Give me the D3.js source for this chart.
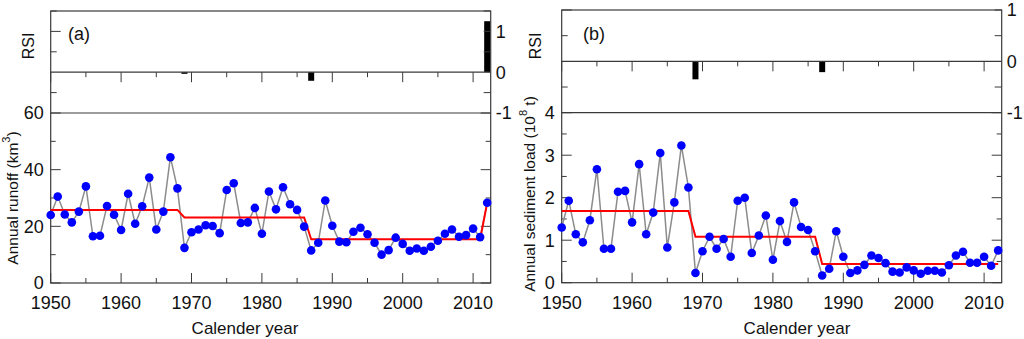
<!DOCTYPE html>
<html>
<head>
<meta charset="utf-8">
<script src="https://cdn.jsdelivr.net/npm/d3@7"></script>
<style>
html,body{margin:0;padding:0;background:#fff;}
svg{display:block;font-family:"Liberation Sans",Arial,sans-serif;}
</style>
</head>
<body>
<svg id="chart" width="1024" height="339"></svg>
<script>
// ---------- data ----------
const years = d3.range(1950, 2013);
const runoff = [24.0,30.5,24.2,21.4,25.2,34.1,16.5,16.7,27.2,24.1,18.7,31.5,20.9,27.1,37.2,18.9,25.2,44.4,33.4,12.4,
  17.9,18.9,20.4,20.1,17.6,32.8,35.2,21.2,21.4,26.5,17.4,32.3,26.0,33.8,27.8,25.8,19.9,11.5,14.2,29.1,
  20.2,14.6,14.4,18.1,19.5,17.2,14.2,10.0,11.6,16.0,13.8,11.4,12.2,11.4,12.8,14.9,17.4,18.9,16.3,16.9,
  19.2,16.2,28.3];
const sediment = [1.30,1.93,1.14,0.95,1.47,2.67,0.80,0.80,2.14,2.16,1.42,2.79,1.14,1.65,3.05,0.83,1.89,3.23,2.24,0.23,
  0.74,1.08,0.80,1.03,0.61,1.93,2.00,0.70,1.11,1.58,0.54,1.45,0.96,1.89,1.31,1.24,0.74,0.17,0.33,1.21,
  0.61,0.23,0.29,0.42,0.64,0.58,0.46,0.26,0.24,0.36,0.29,0.21,0.28,0.28,0.24,0.41,0.64,0.73,0.47,0.47,
  0.61,0.40,0.76];
const runoffStepYears = [1950,1968,1969,1986,1987,2011,2012];
const runoffStepVals  = [25.8,25.8,23.1,23.1,15.4,15.4,28.3];
const sedStepYears = [1950,1968,1969,1986,1987,2012];
const sedStepVals  = [1.69,1.69,1.08,1.08,0.44,0.44];
const rsiYearsA = [1969,1987,2012];
const rsiValsA  = [-0.04,-0.21,1.25];
const rsiYearsB = [1969,1987];
const rsiValsB  = [-0.35,-0.21];
const decadeTicks = [1950,1960,1970,1980,1990,2000,2010];

// ---------- drawing ----------
const svg = d3.select("#chart");
const col = "#3a3a3a";

function panel(cfg){
  const g = svg.append("g");
  const x = d3.scaleLinear().domain([1950, 2012.5]).range([cfg.x0, cfg.x1]);
  const yR = d3.scaleLinear().domain(cfg.rsiDomain).range([cfg.midY, cfg.top]);
  const yD = d3.scaleLinear().domain(cfg.dataDomain).range([cfg.bottom, cfg.midY]);
  const clipId = "clip" + cfg.id;
  svg.append("clipPath").attr("id", clipId).append("rect")
    .attr("x", cfg.x0).attr("y", cfg.top).attr("width", cfg.x1 - cfg.x0).attr("height", cfg.bottom - cfg.top);

  // RSI bars
  g.append("g").attr("clip-path", `url(#${clipId})`).selectAll("rect").data(cfg.rsiYears).join("rect")
    .attr("x", d => x(d) - 3).attr("width", 6)
    .attr("y", (d,i) => Math.min(yR(0), yR(cfg.rsiVals[i])))
    .attr("height", (d,i) => Math.abs(yR(cfg.rsiVals[i]) - yR(0)))
    .attr("fill", "#000");

  // frame and separators
  g.append("rect").attr("x", cfg.x0).attr("y", cfg.top).attr("width", cfg.x1 - cfg.x0)
    .attr("height", cfg.bottom - cfg.top).attr("fill", "none").attr("stroke", col).attr("stroke-width", 1.2);
  g.append("line").attr("x1", cfg.x0).attr("x2", cfg.x1).attr("y1", yR(0)).attr("y2", yR(0))
    .attr("stroke", col).attr("stroke-width", 1.2);
  g.append("line").attr("x1", cfg.x0).attr("x2", cfg.x1).attr("y1", cfg.midY).attr("y2", cfg.midY)
    .attr("stroke", col).attr("stroke-width", 1.2);

  // x ticks (bottom, upward; RSI zero line, downward)
  const xt = d3.range(1950, 2013, 5);
  xt.forEach(t => {
    const L = (t % 10 === 0) ? 10 : 5;
    g.append("line").attr("x1", x(t)).attr("x2", x(t)).attr("y1", cfg.bottom).attr("y2", cfg.bottom - L).attr("stroke", col);
    g.append("line").attr("x1", x(t)).attr("x2", x(t)).attr("y1", yR(0)).attr("y2", yR(0) + L).attr("stroke", col);
  });
  g.selectAll("text.xl").data(decadeTicks).join("text").attr("class","xl")
    .attr("x", d => x(d)).attr("y", 309).attr("text-anchor", "middle")
    .attr("font-size", 18).attr("fill", "#111").text(d => d);

  // RSI ticks both sides
  const rt = d3.range(cfg.rsiDomain[0], cfg.rsiDomain[1] + 0.001, 0.5).filter(v => v > -1 && v !== 0);
  rt.forEach(v => {
    const L = Number.isInteger(v) ? 10 : 6;
    g.append("line").attr("x1", cfg.x0).attr("x2", cfg.x0 + L).attr("y1", yR(v)).attr("y2", yR(v)).attr("stroke", col);
    g.append("line").attr("x1", cfg.x1).attr("x2", cfg.x1 - 7).attr("y1", yR(v)).attr("y2", yR(v)).attr("stroke", col);
  });
  [1, 0, -1].forEach(v => {
    g.append("text").attr("x", cfg.x1 + 5).attr("y", yR(v)).attr("dy", "0.36em")
      .attr("font-size", 18).attr("fill", "#111").text(v);
  });

  // data-axis ticks
  const dt = d3.range(cfg.dataDomain[0], cfg.dataDomain[1] + 1e-9, cfg.minorStep);
  dt.forEach(v => {
    const major = Math.abs(v / cfg.majorStep - Math.round(v / cfg.majorStep)) < 1e-6;
    const L = major ? 10 : 5;
    g.append("line").attr("x1", cfg.x0).attr("x2", cfg.x0 + L).attr("y1", yD(v)).attr("y2", yD(v)).attr("stroke", col);
    g.append("line").attr("x1", cfg.x1).attr("x2", cfg.x1 - L).attr("y1", yD(v)).attr("y2", yD(v)).attr("stroke", col);
    if (major) {
      g.append("text").attr("x", cfg.x0 - 7).attr("y", yD(v)).attr("dy", "0.36em").attr("text-anchor", "end")
        .attr("font-size", 18).attr("fill", "#111").text(v);
    }
  });

  // series
  const pts = years.map((yr, i) => [yr, cfg.values[i]]);
  g.append("path").datum(pts).attr("fill", "none").attr("stroke", "#8c8c8c").attr("stroke-width", 1.5)
    .attr("d", d3.line().x(d => x(d[0])).y(d => yD(d[1])));
  const step = cfg.stepYears.map((yr, i) => [yr, cfg.stepVals[i]]);
  g.append("path").datum(step).attr("fill", "none").attr("stroke", "#ff0000").attr("stroke-width", 2)
    .attr("d", d3.line().x(d => x(d[0])).y(d => yD(d[1])));
  g.selectAll("circle").data(pts).join("circle")
    .attr("cx", d => x(d[0])).attr("cy", d => yD(d[1])).attr("r", 4.3).attr("fill", "#0000ff");

  // labels
  g.append("text").attr("x", cfg.tagX).attr("y", 40).attr("font-size", 18).attr("fill", "#111").text(cfg.tag);
  g.append("text").attr("transform", `translate(${cfg.rsiLabX},46) rotate(-90)`).attr("text-anchor", "middle")
    .attr("dominant-baseline", "central").attr("font-size", 16).attr("fill", "#111").text("RSI");
  g.append("text").attr("x", cfg.xLabX).attr("y", 334).attr("text-anchor", "middle")
    .attr("font-size", 17).attr("fill", "#111").text("Calender year");
  const yl = g.append("text").attr("transform", `translate(${cfg.yLabX},${cfg.yLabY}) rotate(-90)`)
    .attr("text-anchor", "middle").attr("dominant-baseline", "central").attr("font-size", 15.5).attr("fill", "#111");
  yl.append("tspan").text(cfg.yLab[0]);
  yl.append("tspan").attr("dy", -6).attr("font-size", 11).text(cfg.yLab[1]);
  yl.append("tspan").attr("dy", 6).text(cfg.yLab[2]);
}

panel({id:"a", x0:50.7, x1:490.7, top:11, midY:113, bottom:283,
  rsiDomain:[-1,1.5], dataDomain:[0,60], minorStep:10, majorStep:20,
  values:runoff, stepYears:runoffStepYears, stepVals:runoffStepVals,
  rsiYears:rsiYearsA, rsiVals:rsiValsA, tag:"(a)", tagX:68, rsiLabX:28,
  xLabX:245, yLabX:12, yLabY:198, yLab:["Annual runoff (km","3",")"]});

panel({id:"b", x0:561.7, x1:1001.7, top:10, midY:112.7, bottom:282.7,
  rsiDomain:[-1,1], dataDomain:[0,4], minorStep:0.5, majorStep:1,
  values:sediment, stepYears:sedStepYears, stepVals:sedStepVals,
  rsiYears:rsiYearsB, rsiVals:rsiValsB, tag:"(b)", tagX:583, rsiLabX:535.5,
  xLabX:797, yLabX:529, yLabY:194, yLab:["Annual sediment load (10","8"," t)"]});
</script>
</body>
</html>
